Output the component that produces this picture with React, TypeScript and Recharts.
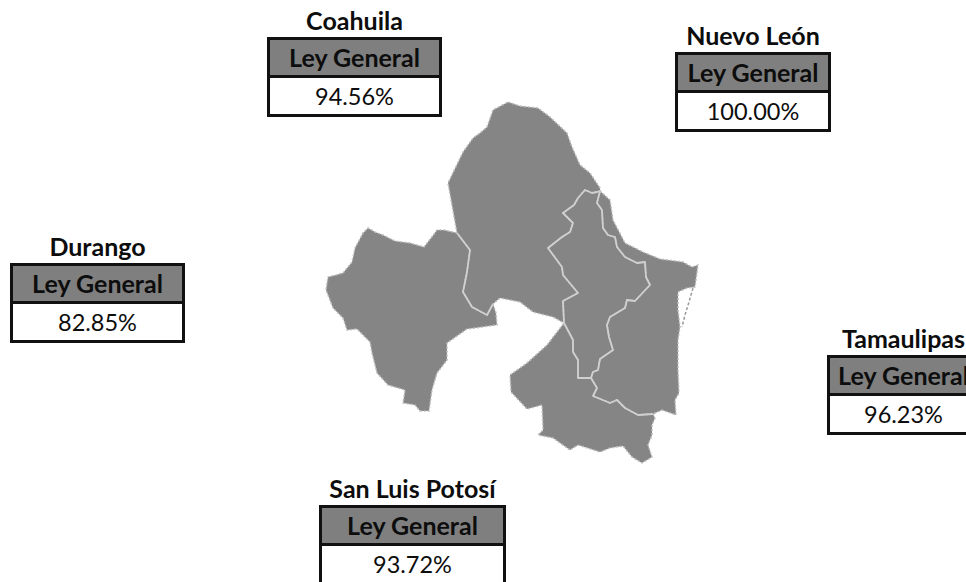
import { Scatter, ScatterChart, XAxis, YAxis } from "recharts";

const WIDTH = 966;
const HEIGHT = 582;

const states = ["Coahuila", "Nuevo León", "Durango", "Tamaulipas", "San Luis Potosí"];
const values = ["94.56%", "100.00%", "82.85%", "96.23%", "93.72%"];
const columnLabel = "Ley General";

// shared borders
const durangoCoahuila = [[457, 233], [470, 250], [467, 272], [465, 282], [463, 292], [472, 307], [487, 315], [493, 304]];
const coahuilaNuevoLeon = [
  [600, 191], [597, 192], [592, 193], [585, 190], [578, 198], [574, 205], [563, 213], [573, 223], [570, 232],
  [562, 237], [548, 248], [562, 267], [563, 275], [578, 293], [563, 301], [564, 323],
];
const nuevoLeonSanLuis = [[564, 323], [573, 340], [573, 352], [578, 360], [578, 378], [591, 378]];
const nuevoLeonTamaulipas = [
  [591, 378], [593, 372], [598, 370], [600, 359], [613, 350], [609, 337], [607, 325], [610, 317], [625, 308],
  [627, 300], [635, 301], [650, 285], [646, 277], [645, 262], [637, 263], [625, 257], [617, 247], [615, 237],
  [608, 235], [603, 228], [602, 210], [597, 203], [600, 191],
];
const tamaulipasSanLuis = [[591, 378], [597, 388], [593, 396], [610, 403], [617, 400], [625, 408], [638, 415], [653, 414]];

// outer edges
const durangoCoast = [
  [457, 233], [444, 230], [437, 230], [431, 238], [424, 247], [417, 245], [410, 243], [395, 241], [383, 235],
  [375, 232], [368, 228], [363, 233], [355, 248], [352, 262], [343, 273], [336, 275], [328, 277], [326, 290],
  [333, 308], [343, 318], [347, 330], [357, 329], [370, 342], [372, 353], [377, 373], [388, 385], [405, 390],
  [403, 403], [415, 405], [420, 411], [429, 411], [432, 390], [437, 373], [447, 360], [447, 343], [467, 329],
  [497, 325], [496, 313], [493, 304],
];
const coahuilaCoast = [
  [457, 233], [455, 222], [448, 183], [463, 152], [473, 138], [480, 133], [487, 127], [493, 110], [508, 102],
  [520, 106], [538, 108], [550, 117], [567, 133], [572, 147], [580, 165], [590, 173], [600, 188], [600, 191],
];
const coahuilaSouth = [[564, 323], [553, 317], [533, 312], [520, 302], [510, 300], [500, 298], [493, 304]];
const tamaulipasCoast = [
  [600, 191], [610, 200], [613, 220], [625, 243], [643, 252], [660, 259], [683, 262], [692, 267], [698, 265],
  [695, 287], [687, 288], [678, 292], [678, 310], [680, 327], [678, 340], [678, 370], [679, 393], [675, 400],
  [676, 415], [662, 410], [653, 414],
];
const sanLuisCoast = [
  [653, 414], [655, 418], [652, 425], [652, 435], [648, 445], [652, 457], [642, 463], [632, 457], [623, 446],
  [610, 448], [600, 452], [578, 445], [570, 450], [553, 438], [538, 435], [543, 430], [542, 405], [527, 409],
  [511, 392], [510, 375], [527, 363], [547, 345], [564, 323],
];
const lagoonBar = [[693, 288], [689, 302], [685, 315], [682, 327]];

const back = (line: number[][]) => [...line].reverse();

const regions = [
  [...durangoCoast, ...back(durangoCoahuila)],
  [...coahuilaCoast, ...coahuilaNuevoLeon, ...coahuilaSouth, ...back(durangoCoahuila)],
  [...coahuilaNuevoLeon, ...nuevoLeonSanLuis, ...nuevoLeonTamaulipas],
  [...tamaulipasCoast, ...back(tamaulipasSanLuis), ...nuevoLeonTamaulipas],
  [...sanLuisCoast, ...nuevoLeonSanLuis, ...tamaulipasSanLuis],
];
const borders = [durangoCoahuila, coahuilaNuevoLeon, nuevoLeonSanLuis, nuevoLeonTamaulipas, tamaulipasSanLuis];

const boxes = [
  { left: 267, top: 37, width: 175 },
  { left: 675, top: 52, width: 156 },
  { left: 10, top: 263, width: 175 },
  { left: 827, top: 355, width: 153 },
  { left: 319, top: 505, width: 187 },
];

const toPath = (points: any[]) => points.map((p, i) => `${i ? "L" : "M"}${p.cx ?? p.x},${p.cy ?? p.y}`).join(" ");

const StateBox = ({ name, value, left, top, width }: any) => (
  <div style={{ position: "absolute", left, top: top - 32, width, fontFamily: "Lato, sans-serif", color: "#0d0d0d", textAlign: "center" }}>
    <div style={{ height: 32, lineHeight: "30px", fontSize: 25, fontWeight: 700, whiteSpace: "nowrap", display: "flex", justifyContent: "center" }}>{name}</div>
    <div style={{ border: "3px solid #111", boxSizing: "border-box", width, height: 80 }}>
      <div style={{ height: 35, lineHeight: "35px", fontSize: 25, fontWeight: 700, background: "#7f7f7f", borderBottom: "3px solid #111", whiteSpace: "nowrap" }}>
        {columnLabel}
      </div>
      <div style={{ height: 36, lineHeight: "36px", fontSize: 23.5, background: "#fff" }}>{value}</div>
    </div>
  </div>
);

const toData = (line: number[][]) => line.map(([x, y]) => ({ x, y }));

export default function App() {
  return (
    <div style={{ position: "absolute", left: 0, top: 0, width: WIDTH, height: HEIGHT, overflow: "hidden", background: "#fff" }}>
      <ScatterChart width={WIDTH} height={HEIGHT} margin={{ top: 0, right: 0, bottom: 0, left: 0 }}>
        <XAxis type="number" dataKey="x" domain={[0, WIDTH]} hide />
        <YAxis type="number" dataKey="y" domain={[0, HEIGHT]} reversed hide />
        {regions.map((outline, i) => (
          <Scatter
            key={`region-${i}`}
            data={toData(outline)}
            line={(p: any) => (
              <path key="r" d={toPath(p.points) + "Z"} fill="#858585" stroke="#bdbdbd" strokeWidth={1.5} strokeDasharray="2 2" />
            )}
            shape={() => null}
            isAnimationActive={false}
          />
        ))}
        {borders.map((line, i) => (
          <Scatter
            key={`border-${i}`}
            data={toData(line)}
            line={(p: any) => (
              <path key="b" d={toPath(p.points)} fill="none" stroke="#d0d0d0" strokeWidth={1.8} strokeLinejoin="round" />
            )}
            shape={() => null}
            isAnimationActive={false}
          />
        ))}
        <Scatter
          data={toData(lagoonBar)}
          line={(p: any) => <path key="l" d={toPath(p.points)} fill="none" stroke="#9a9a9a" strokeWidth={1.5} strokeDasharray="3 2" />}
          shape={() => null}
          isAnimationActive={false}
        />
      </ScatterChart>
      {states.map((name, i) => (
        <StateBox key={name} name={name} value={values[i]} {...boxes[i]} />
      ))}
    </div>
  );
}
